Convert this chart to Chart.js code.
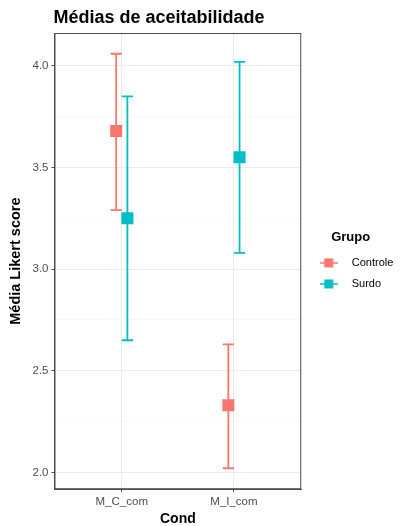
<!DOCTYPE html>
<html>
<head>
<meta charset="utf-8">
<script src="https://cdn.jsdelivr.net/npm/chart.js@4"></script>
<style>
    html, body { margin: 0; padding: 0; background: #fff; }
    #wrap { width: 400px; height: 526px; }
</style>
</head>
<body>
<div id="wrap"><canvas id="chart"></canvas></div>
<script>
const conditions = ['M_C_com', 'M_I_com'];
const controleMean = [3.68, 2.33];
const controleLow = [3.29, 2.02];
const controleHigh = [4.06, 2.63];
const surdoMean = [3.25, 3.55];
const surdoLow = [2.65, 3.08];
const surdoHigh = [3.85, 4.02];
const yMajorTicks = [2.0, 2.5, 3.0, 3.5, 4.0];
const yMinorTicks = [2.25, 2.75, 3.25, 3.75];

const RED = '#F8766D';
const TEAL = '#00BFC4';
const FONT = '"Liberation Sans", Arial, Helvetica, sans-serif';
const dodge = 0.05;
const capHalf = 0.05;

function toPoints(means, lows, highs, offset) {
    return conditions.map((c, i) => ({ x: i + 1 + offset, y: means[i], low: lows[i], high: highs[i] }));
}

function isMajor(value) {
    return yMajorTicks.includes(value);
}

// legend key: short line with a square on it, like the ggplot key
function keyIcon(color) {
    const c = document.createElement('canvas');
    c.width = 18;
    c.height = 14;
    const ctx = c.getContext('2d');
    ctx.strokeStyle = color;
    ctx.lineWidth = 1.5;
    ctx.beginPath();
    ctx.moveTo(0, 7);
    ctx.lineTo(18, 7);
    ctx.stroke();
    ctx.fillStyle = color;
    ctx.fillRect(4.5, 2.5, 9, 9);
    return c;
}

const errorBars = {
    id: 'errorBars',
    beforeDatasetsDraw(chart) {
        const { ctx, chartArea, scales: { x, y } } = chart;
        ctx.save();
        ctx.strokeStyle = '#4d4d4d';
        ctx.lineWidth = 1;
        ctx.strokeRect(chartArea.left + 0.5, chartArea.top + 0.5, chartArea.width - 1, chartArea.height - 1);
        chart.data.datasets.forEach((ds, di) => {
            if (!chart.isDatasetVisible(di)) return;
            ctx.strokeStyle = ds.borderColor;
            ctx.lineWidth = 1.8;
            ds.data.forEach((p) => {
                const px = x.getPixelForValue(p.x);
                const half = x.getPixelForValue(p.x + capHalf) - px;
                const lo = y.getPixelForValue(p.low);
                const hi = y.getPixelForValue(p.high);
                ctx.beginPath();
                ctx.moveTo(px, lo);
                ctx.lineTo(px, hi);
                ctx.moveTo(px - half, lo);
                ctx.lineTo(px + half, lo);
                ctx.moveTo(px - half, hi);
                ctx.lineTo(px + half, hi);
                ctx.stroke();
            });
        });
        ctx.restore();
    },
};

const plotTitle = {
    id: 'plotTitle',
    afterDraw(chart) {
        const { ctx, chartArea } = chart;
        ctx.save();
        ctx.fillStyle = '#000';
        ctx.font = `bold 18px ${FONT}`;
        ctx.textAlign = 'left';
        ctx.textBaseline = 'alphabetic';
        ctx.fillText('Médias de aceitabilidade', chartArea.left - 1, 23);
        ctx.restore();
    },
};

new Chart(document.getElementById('chart'), {
    type: 'scatter',
    data: {
        datasets: [
            {
                label: 'Controle',
                data: toPoints(controleMean, controleLow, controleHigh, -dodge),
                backgroundColor: RED,
                borderColor: RED,
                borderWidth: 0,
                pointStyle: 'rect',
                pointRadius: 8.5,
                pointHoverRadius: 8.5,
            },
            {
                label: 'Surdo',
                data: toPoints(surdoMean, surdoLow, surdoHigh, dodge),
                backgroundColor: TEAL,
                borderColor: TEAL,
                borderWidth: 0,
                pointStyle: 'rect',
                pointRadius: 8.5,
                pointHoverRadius: 8.5,
            },
        ],
    },
    options: {
        responsive: true,
        maintainAspectRatio: false,
        animation: false,
        layout: {
            padding: { top: 33, right: 0, bottom: 0, left: 5 },
        },
        scales: {
            x: {
                type: 'linear',
                min: 0.4,
                max: 2.6,
                afterBuildTicks: (scale) => {
                    scale.ticks = conditions.map((c, i) => ({ value: i + 1 }));
                },
                ticks: {
                    callback: (v) => conditions[v - 1] ?? '',
                    color: '#4d4d4d',
                    font: { family: FONT, size: 11.5 },
                    padding: 3,
                    autoSkip: false,
                    maxRotation: 0,
                },
                grid: {
                    color: '#ebebeb',
                    lineWidth: 1,
                    tickLength: 3,
                    tickColor: '#4d4d4d',
                },
                border: { display: true, color: '#4d4d4d', width: 1 },
                title: {
                    display: true,
                    text: 'Cond',
                    color: '#000',
                    font: { family: FONT, size: 14, weight: 'bold', lineHeight: 1 },
                    padding: { top: 0, bottom: 0 },
                },
            },
            y: {
                min: 1.917,
                max: 4.162,
                afterBuildTicks: (scale) => {
                    scale.ticks = [...yMinorTicks, ...yMajorTicks].sort((a, b) => a - b).map((v) => ({ value: v }));
                },
                ticks: {
                    callback: (v) => (isMajor(v) ? v.toFixed(1) : ''),
                    color: '#4d4d4d',
                    font: { family: FONT, size: 11.5 },
                    padding: 3,
                    autoSkip: false,
                },
                grid: {
                    color: (c) => (c.tick && isMajor(c.tick.value) ? '#ebebeb' : '#f4f4f4'),
                    lineWidth: (c) => (c.tick && isMajor(c.tick.value) ? 1 : 0.7),
                    tickColor: (c) => (c.tick && isMajor(c.tick.value) ? '#4d4d4d' : 'rgba(0,0,0,0)'),
                    tickLength: 3,
                },
                border: { display: true, color: '#4d4d4d', width: 1 },
                title: {
                    display: true,
                    text: 'Média Likert score',
                    color: '#000',
                    font: { family: FONT, size: 14.5, weight: 'bold', lineHeight: 1 },
                    padding: { top: 4, bottom: 6 },
                },
            },
        },
        plugins: {
            tooltip: { enabled: false },
            legend: {
                position: 'right',
                align: 'center',
                fullSize: false,
                title: {
                    display: true,
                    text: 'Grupo',
                    position: 'center',
                    color: '#000',
                    font: { family: FONT, size: 13, weight: 'bold' },
                    padding: { top: 8, bottom: 1 },
                },
                labels: {
                    usePointStyle: true,
                    pointStyleWidth: 35,
                    padding: 10,
                    color: '#000',
                    font: { family: FONT, size: 11 },
                    generateLabels: (chart) => chart.data.datasets.map((ds, i) => ({
                        text: ds.label,
                        pointStyle: keyIcon(ds.borderColor),
                        fillStyle: ds.backgroundColor,
                        strokeStyle: ds.borderColor,
                        lineWidth: 0,
                        fontColor: '#000',
                        hidden: !chart.isDatasetVisible(i),
                        datasetIndex: i,
                    })),
                },
            },
        },
    },
    plugins: [errorBars, plotTitle],
});
</script>
</body>
</html>
